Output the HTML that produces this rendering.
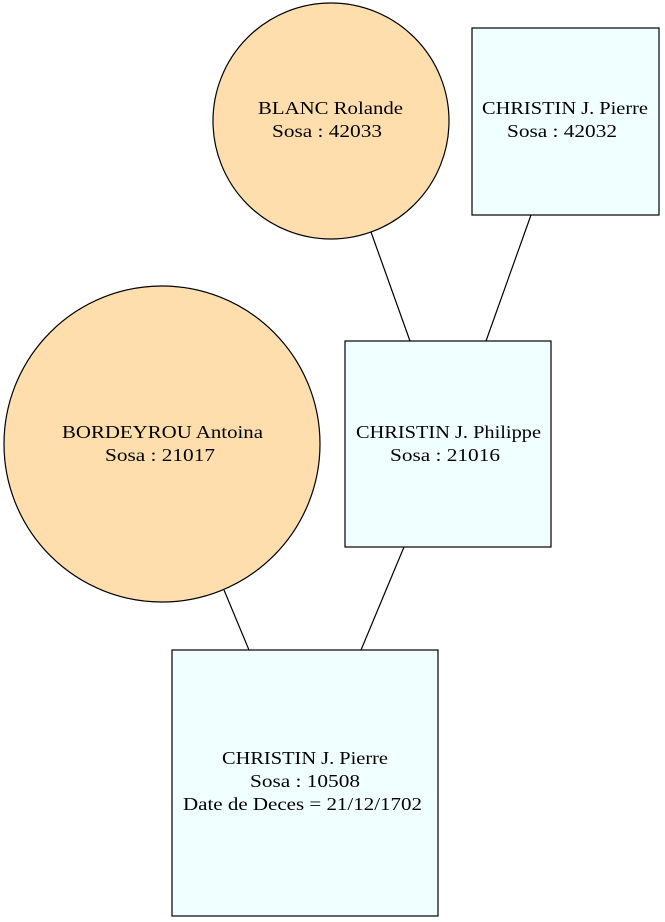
<!DOCTYPE html>
<html>
<head>
<meta charset="utf-8">
<style>
html,body{margin:0;padding:0;background:#fff;}
svg{display:block;}
text{font-family:"Liberation Serif",serif;font-size:18px;fill:#000;}
</style>
</head>
<body>
<svg width="665" height="922" viewBox="0 0 665 922" xmlns="http://www.w3.org/2000/svg">
<g stroke="#000" stroke-width="1.2">
<line x1="371" y1="232" x2="410" y2="341"/>
<line x1="531" y1="215" x2="486" y2="341"/>
<line x1="224" y1="590" x2="249" y2="650"/>
<line x1="404" y1="547" x2="361" y2="650"/>
<circle cx="331" cy="121" r="118" fill="#ffdead"/>
<rect x="472" y="28" width="187" height="187" fill="#f0ffff"/>
<circle cx="162" cy="444" r="158" fill="#ffdead"/>
<rect x="345" y="341" width="206" height="206" fill="#f0ffff"/>
<rect x="172" y="650" width="266" height="266" fill="#f0ffff"/>
</g>
<g lengthAdjust="spacingAndGlyphs">
<text x="258" y="114" textLength="145" lengthAdjust="spacingAndGlyphs">BLANC Rolande</text>
<text x="272" y="137" textLength="110" lengthAdjust="spacingAndGlyphs">Sosa : 42033</text>
<text x="482" y="114" textLength="166" lengthAdjust="spacingAndGlyphs">CHRISTIN J. Pierre</text>
<text x="507" y="137" textLength="110" lengthAdjust="spacingAndGlyphs">Sosa : 42032</text>
<text x="62" y="438" textLength="201" lengthAdjust="spacingAndGlyphs">BORDEYROU Antoina</text>
<text x="105" y="461" textLength="110" lengthAdjust="spacingAndGlyphs">Sosa : 21017</text>
<text x="356" y="438" textLength="185" lengthAdjust="spacingAndGlyphs">CHRISTIN J. Philippe</text>
<text x="390" y="461" textLength="110" lengthAdjust="spacingAndGlyphs">Sosa : 21016</text>
<text x="222" y="764" textLength="166" lengthAdjust="spacingAndGlyphs">CHRISTIN J. Pierre</text>
<text x="250" y="787" textLength="110" lengthAdjust="spacingAndGlyphs">Sosa : 10508</text>
<text x="183" y="810" textLength="239" lengthAdjust="spacingAndGlyphs">Date de Deces = 21/12/1702</text>
</g>
</svg>
</body>
</html>
